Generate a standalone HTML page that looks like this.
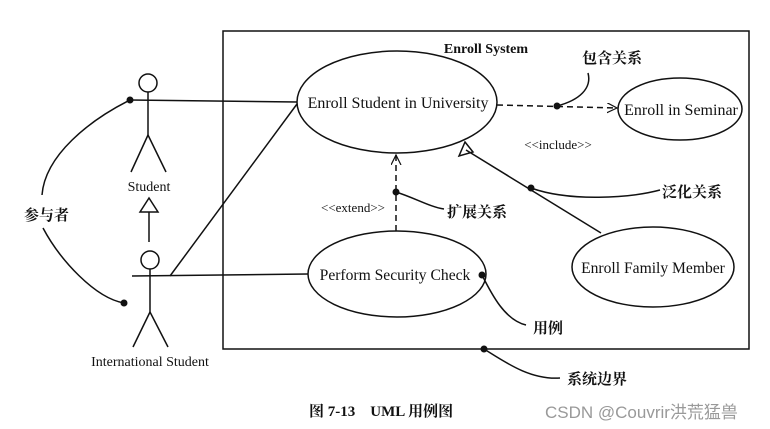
<!DOCTYPE html>
<html><head><meta charset="utf-8"><style>
html,body{margin:0;padding:0;background:#fff;}
svg{display:block;}
text{font-family:"Liberation Serif","Noto Serif CJK SC",serif;fill:#111;}
.c{font-family:"Liberation Serif","Noto Serif CJK SC","Noto Sans CJK SC",serif;font-weight:bold;}
</style></head><body>
<svg width="770" height="429" viewBox="0 0 770 429" xmlns="http://www.w3.org/2000/svg">
<defs>
<marker id="oa" markerWidth="12" markerHeight="12" refX="10" refY="5" orient="auto" markerUnits="userSpaceOnUse"><path d="M0,0 L10,5 L0,10" fill="none" stroke="#111" stroke-width="1.2"/></marker>
</defs>
<g stroke="#111" stroke-width="1.5" fill="none">
<rect x="223" y="31" width="526" height="318"/>
<ellipse cx="397" cy="102" rx="100" ry="51"/>
<ellipse cx="680" cy="109" rx="62" ry="31"/>
<ellipse cx="397" cy="274" rx="89" ry="43"/>
<ellipse cx="653" cy="267" rx="81" ry="40"/>
<circle cx="148" cy="83" r="9"/>
<line x1="148" y1="92" x2="148" y2="135"/>
<line x1="148" y1="135" x2="131" y2="172"/>
<line x1="148" y1="135" x2="166" y2="172"/>
<line x1="130" y1="100" x2="297" y2="102"/>
<polygon points="149,198 140,212 158,212"/>
<line x1="149" y1="212" x2="149" y2="242"/>
<circle cx="150" cy="260" r="9"/>
<line x1="150" y1="269" x2="150" y2="312"/>
<line x1="150" y1="312" x2="133" y2="347"/>
<line x1="150" y1="312" x2="168" y2="347"/>
<line x1="132" y1="276" x2="308" y2="274"/>
<line x1="170" y1="276" x2="297" y2="104"/>
<line x1="497" y1="105" x2="617" y2="108" stroke-dasharray="6,4" marker-end="url(#oa)"/>
<path d="M557,106 C580,100 592,88 588,73"/>
<polygon points="465,142 459,156 473,152"/>
<line x1="466" y1="150" x2="601" y2="233"/>
<path d="M531,188 C570,202 630,198 660,190"/>
<line x1="396" y1="231" x2="396" y2="155" stroke-dasharray="6,4" marker-end="url(#oa)"/>
<path d="M396,192 C415,198 430,207 444,209"/>
<path d="M482,275 C492,295 505,320 526,325"/>
<path d="M484,349 C505,362 530,380 560,378"/>
<path d="M130,100 C90,120 45,155 42,195"/>
<path d="M43,228 C60,260 95,298 124,303"/>
</g>
<g fill="#111">
<circle cx="130" cy="100" r="3.5"/>
<circle cx="124" cy="303" r="3.5"/>
<circle cx="557" cy="106" r="3.5"/>
<circle cx="531" cy="188" r="3.5"/>
<circle cx="396" cy="192" r="3.5"/>
<circle cx="482" cy="275" r="3.5"/>
<circle cx="484" cy="349" r="3.5"/>
</g>
<text x="486" y="53" font-size="14" font-weight="bold" text-anchor="middle">Enroll System</text>
<text x="398" y="108" font-size="16" text-anchor="middle">Enroll Student in University</text>
<text x="681" y="115" font-size="16" text-anchor="middle">Enroll in Seminar</text>
<text x="395" y="280" font-size="15.6" text-anchor="middle">Perform Security Check</text>
<text x="653" y="273" font-size="15.6" text-anchor="middle">Enroll Family Member</text>
<text x="149" y="191" font-size="14" text-anchor="middle">Student</text>
<text x="150" y="366" font-size="14" text-anchor="middle">International Student</text>
<text x="558" y="149" font-size="13" text-anchor="middle">&lt;&lt;include&gt;&gt;</text>
<text x="353" y="212" font-size="13" text-anchor="middle">&lt;&lt;extend&gt;&gt;</text>
<text class="c" x="582" y="63" font-size="15">包含关系</text>
<text class="c" x="662" y="197" font-size="15">泛化关系</text>
<text class="c" x="447" y="217" font-size="15">扩展关系</text>
<text class="c" x="24" y="220" font-size="15">参与者</text>
<text class="c" x="533" y="333" font-size="15">用例</text>
<text class="c" x="567" y="384" font-size="15">系统边界</text>
<text class="c" x="309" y="416" font-size="15">图 7-13　UML 用例图</text>
<text x="545" y="418" font-size="17" style="font-family:'Liberation Sans','Noto Sans CJK SC',sans-serif;fill:#999;">CSDN @Couvrir洪荒猛兽</text>
</svg>
</body></html>
